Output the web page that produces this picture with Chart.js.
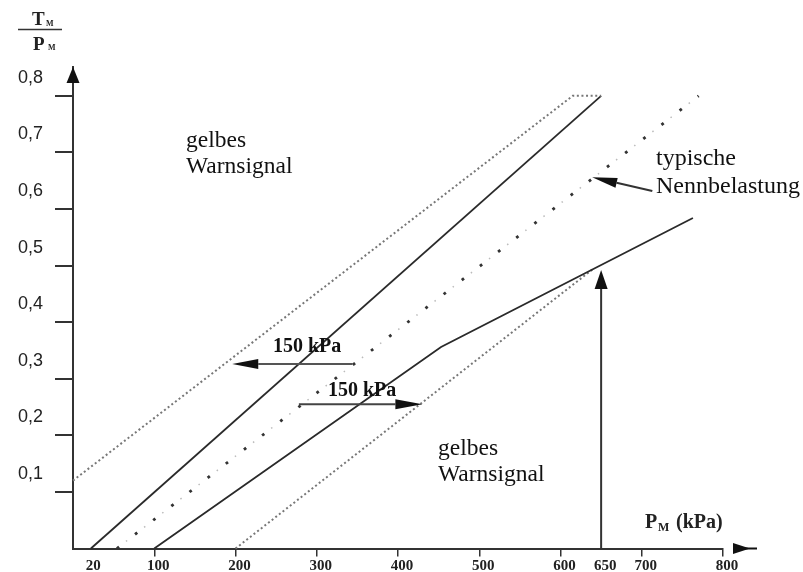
<!DOCTYPE html>
<html>
<head>
<meta charset="utf-8">
<script src="https://cdn.jsdelivr.net/npm/chart.js@4/dist/chart.umd.min.js"></script>
<style>
  body { margin: 0; background: #fff; }
</style>
</head>
<body>
<canvas id="wearChart" width="803" height="572"></canvas>
<script>
// axis ticks
const xTickValues = [20, 100, 200, 300, 400, 500, 600, 650, 700, 800];
const yTickValues = [0.1, 0.2, 0.3, 0.4, 0.5, 0.6, 0.7, 0.8];
const yTickLabels = ['0,1', '0,2', '0,3', '0,4', '0,5', '0,6', '0,7', '0,8'];

// curves (P_M in kPa, T_M / P_M)
const warnUpperX = [0, 615, 650];
const warnUpperY = [0.12, 0.8, 0.8];
const limitUpperX = [22, 650];
const limitUpperY = [0, 0.8];
const nominalX = [54, 770];
const nominalY = [0, 0.8];
const limitLowerX = [100, 453, 763];
const limitLowerY = [0, 0.356, 0.584];
const warnLowerX = [200, 640];
const warnLowerY = [0, 0.494];

// arrows
const shiftLeftX = [344, 196];
const shiftLeftY = [0.326, 0.326];
const shiftRightX = [278, 430];
const shiftRightY = [0.255, 0.255];
const nominalPointerX = [713, 639];
const nominalPointerY = [0.632, 0.656];
const ratedLoadX = [650, 650];
const ratedLoadY = [0, 0.492];

function toPoints(xs, ys) {
    return xs.map((x, i) => ({ x: x, y: ys[i] }));
}

function arrow(ctx, x1, y1, x2, y2, shaftColor, headLen, headHalf) {
    const ang = Math.atan2(y2 - y1, x2 - x1);
    const bx = x2 - headLen * Math.cos(ang);
    const by = y2 - headLen * Math.sin(ang);
    ctx.strokeStyle = shaftColor;
    ctx.lineWidth = 2;
    ctx.beginPath();
    ctx.moveTo(x1, y1);
    ctx.lineTo(bx, by);
    ctx.stroke();
    ctx.fillStyle = '#111';
    ctx.beginPath();
    ctx.moveTo(x2, y2);
    ctx.lineTo(bx + headHalf * Math.sin(ang), by - headHalf * Math.cos(ang));
    ctx.lineTo(bx - headHalf * Math.sin(ang), by + headHalf * Math.cos(ang));
    ctx.closePath();
    ctx.fill();
}

const decorations = {
    id: 'decorations',
    afterDatasetsDraw(chart) {
        const ctx = chart.ctx;
        const xs = chart.scales.x, ys = chart.scales.y;
        const px = v => xs.getPixelForValue(v);
        const py = v => ys.getPixelForValue(v);
        const area = chart.chartArea;
        ctx.save();

        // arrows
        arrow(ctx, px(shiftLeftX[0]), py(shiftLeftY[0]), px(shiftLeftX[1]), py(shiftLeftY[1]), '#555', 26, 5);
        arrow(ctx, px(shiftRightX[0]), py(shiftRightY[0]), px(shiftRightX[1]), py(shiftRightY[1]), '#444', 27, 5);
        arrow(ctx, px(nominalPointerX[0]), py(nominalPointerY[0]), px(nominalPointerX[1]), py(nominalPointerY[1]), '#333', 25, 5);
        arrow(ctx, px(ratedLoadX[0]), py(ratedLoadY[0]), px(ratedLoadX[1]), py(ratedLoadY[1]), '#333', 19, 6.5);

        // axis arrow heads
        ctx.fillStyle = '#111';
        ctx.beginPath();
        ctx.moveTo(area.left, area.top);
        ctx.lineTo(area.left - 6.5, area.top + 16);
        ctx.lineTo(area.left + 6.5, area.top + 16);
        ctx.closePath();
        ctx.fill();
        const ay = area.bottom;
        ctx.beginPath();
        ctx.moveTo(733, ay - 5.5);
        ctx.lineTo(750, ay);
        ctx.lineTo(733, ay + 5.5);
        ctx.closePath();
        ctx.fill();
        ctx.strokeStyle = '#111';
        ctx.lineWidth = 2;
        ctx.beginPath();
        ctx.moveTo(745, ay);
        ctx.lineTo(757, ay);
        ctx.stroke();

        // texts
        ctx.fillStyle = '#111';
        ctx.textAlign = 'left';
        ctx.textBaseline = 'alphabetic';
        ctx.font = '23.5px "Liberation Serif"';
        ctx.fillText('gelbes', 186, 147);
        ctx.fillText('Warnsignal', 186, 173);
        ctx.fillText('gelbes', 438, 455);
        ctx.fillText('Warnsignal', 438, 481);
        ctx.font = '24px "Liberation Serif"';
        ctx.fillText('typische', 656, 165);
        ctx.fillText('Nennbelastung', 656, 193);
        ctx.font = 'bold 20px "Liberation Serif"';
        ctx.fillText('150 kPa', 273, 352);
        ctx.fillText('150 kPa', 328, 396);

        // axis titles
        ctx.fillStyle = '#222';
        ctx.font = 'bold 19px "Liberation Serif"';
        ctx.fillText('T', 32, 25);
        ctx.fillText('P', 33, 50);
        ctx.font = 'bold 8px "Liberation Serif"';
        ctx.fillText('M', 46, 26);
        ctx.fillText('M', 48, 50);
        ctx.strokeStyle = '#333';
        ctx.lineWidth = 1.5;
        ctx.beginPath();
        ctx.moveTo(18, 29.5);
        ctx.lineTo(62, 29.5);
        ctx.stroke();

        ctx.font = 'bold 20px "Liberation Serif"';
        ctx.fillText('P', 645, 528);
        ctx.fillText('(kPa)', 676, 528);
        ctx.font = 'bold 12px "Liberation Serif"';
        ctx.fillText('M', 658, 531);
        ctx.restore();
    }
};

const solid = { borderColor: '#2a2a2a', borderWidth: 1.8, pointRadius: 0, showLine: true, clip: 6 };
const dotted = { borderColor: '#777', borderWidth: 2, borderDash: [2, 2.6], pointRadius: 0, showLine: true, clip: 6 };

new Chart(document.getElementById('wearChart'), {
    type: 'scatter',
    data: {
        datasets: [
            Object.assign({ data: toPoints(warnUpperX, warnUpperY) }, dotted),
            Object.assign({ data: toPoints(limitUpperX, limitUpperY) }, solid),
            { data: toPoints(nominalX, nominalY), borderColor: '#bbb', borderWidth: 1.5, borderDash: [1.5, 21.5], borderDashOffset: -11.5, pointRadius: 0, showLine: true, clip: 6 },
            { data: toPoints(nominalX, nominalY), borderColor: '#333', borderWidth: 2.8, borderDash: [2.8, 20.2], pointRadius: 0, showLine: true, clip: 6 },
            Object.assign({ data: toPoints(limitLowerX, limitLowerY) }, solid),
            Object.assign({ data: toPoints(warnLowerX, warnLowerY) }, dotted)
        ]
    },
    options: {
        responsive: false,
        devicePixelRatio: 1,
        animation: false,
        layout: { padding: { top: 67, right: 80, left: 0, bottom: 0 } },
        plugins: {
            legend: { display: false },
            tooltip: { enabled: false }
        },
        scales: {
            x: {
                type: 'linear',
                min: 0,
                max: 800,
                afterBuildTicks: s => { s.ticks = xTickValues.map(v => ({ value: v })); },
                afterFit: s => { s.height = 23.5; },
                ticks: {
                    autoSkip: false,
                    maxRotation: 0,
                    padding: 1,
                    labelOffset: 4,
                    color: '#222',
                    font: { family: 'Liberation Serif', size: 15, weight: 'bold' },
                    callback: v => String(v)
                },
                grid: {
                    drawOnChartArea: false,
                    tickLength: 8,
                    lineWidth: 1.5,
                    color: c => (c.tick && (c.tick.value === 20 || c.tick.value === 650)) ? 'rgba(0,0,0,0)' : '#333'
                },
                border: { color: '#333', width: 2 }
            },
            y: {
                type: 'linear',
                min: 0,
                max: 0.851,
                afterBuildTicks: s => { s.ticks = yTickValues.map(v => ({ value: v })); },
                afterFit: s => { s.width = 73; },
                ticks: {
                    padding: 12,
                    labelOffset: -18,
                    color: '#222',
                    font: { family: 'Liberation Sans', size: 18 },
                    callback: v => yTickLabels[yTickValues.indexOf(v)]
                },
                grid: {
                    drawOnChartArea: false,
                    tickLength: 18,
                    lineWidth: 2,
                    color: '#333'
                },
                border: { color: '#333', width: 2 }
            }
        }
    },
    plugins: [decorations]
});
</script>
</body>
</html>
